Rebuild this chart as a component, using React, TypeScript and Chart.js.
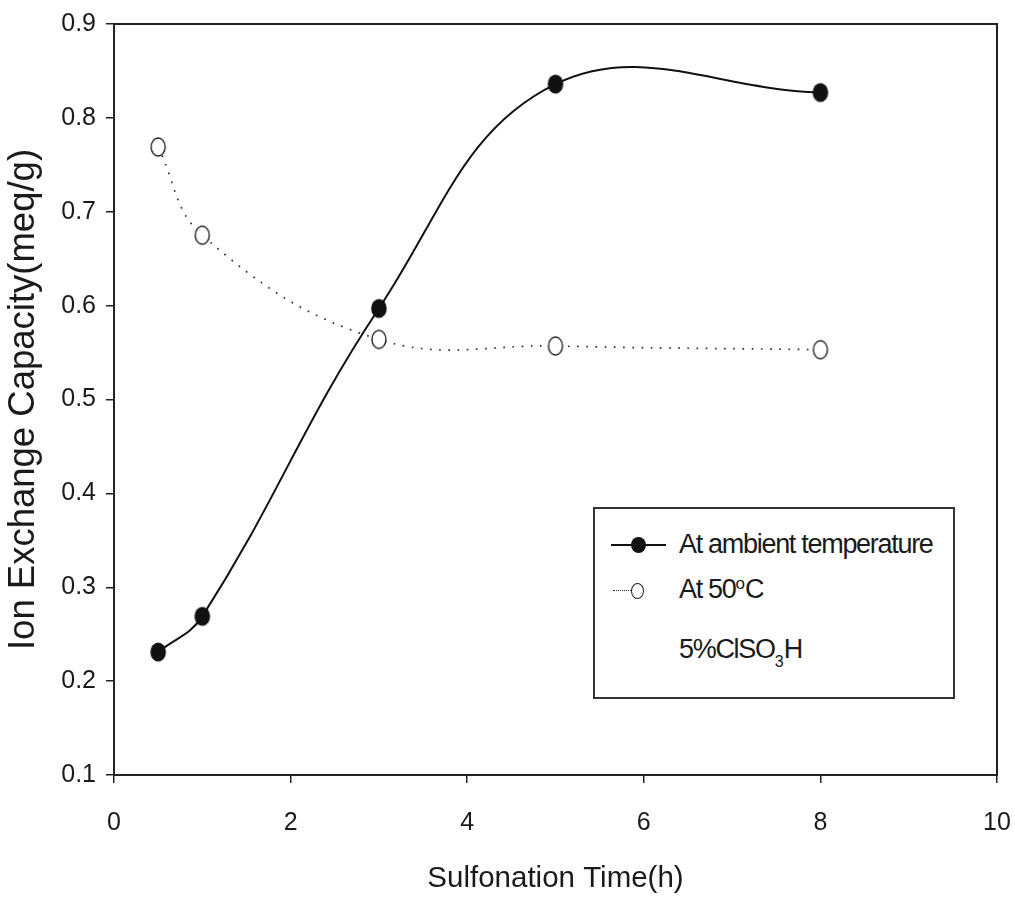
import React, { useEffect, useRef } from "react";
import { Chart, registerables } from "chart.js";

Chart.register(...registerables);

// ---- data ----
const timeH = [0.5, 1, 3, 5, 8];
const ambientIEC = [0.231, 0.269, 0.597, 0.836, 0.827];
const hot50IEC = [0.769, 0.675, 0.564, 0.557, 0.553];
const xTickValues = [0, 2, 4, 6, 8, 10];
const yTickValues = [0.1, 0.2, 0.3, 0.4, 0.5, 0.6, 0.7, 0.8, 0.9];
const seriesNames = ["At ambient temperature", "At 50°C"];
const xTitle = "Sulfonation Time(h)";
const yTitle = "Ion Exchange Capacity(meq/g)";

const FONT = "'Liberation Sans', Arial, sans-serif";
const INK = "#1a1a1a";

function makeMarker(filled: boolean): HTMLCanvasElement {
  const c = document.createElement("canvas");
  c.width = 18;
  c.height = 22;
  const ctx = c.getContext("2d")!;
  ctx.beginPath();
  ctx.ellipse(9, 11, filled ? 7.8 : 7, filled ? 9.6 : 9, 0, 0, Math.PI * 2);
  if (filled) {
    ctx.fillStyle = "#111";
    ctx.fill();
  } else {
    ctx.fillStyle = "#fff";
    ctx.fill();
    ctx.lineWidth = 1.4;
    ctx.strokeStyle = "#222";
    ctx.stroke();
  }
  return c;
}

const framePlugin = {
  id: "frame",
  afterDraw(chart: any) {
    const { ctx, chartArea } = chart;
    ctx.save();
    ctx.strokeStyle = "#222";
    ctx.lineWidth = 2;
    ctx.strokeRect(chartArea.left, chartArea.top, chartArea.right - chartArea.left, chartArea.bottom - chartArea.top);
    ctx.restore();
  },
};

export default function App() {
  const ref = useRef<HTMLCanvasElement | null>(null);

  useEffect(() => {
    if (!ref.current) return;
    const filled = makeMarker(true);
    const open = makeMarker(false);
    const chart = new Chart(ref.current, {
      type: "line",
      data: {
        datasets: [
          {
            label: seriesNames[1],
            data: timeH.map((x, i) => ({ x, y: hot50IEC[i] })),
            borderColor: "#333",
            borderWidth: 1.7,
            borderDash: [1.7, 7.5],
            tension: 0.4,
            pointStyle: open as any,
            pointRadius: 9,
            fill: false,
          },
          {
            label: seriesNames[0],
            data: timeH.map((x, i) => ({ x, y: ambientIEC[i] })),
            borderColor: "#111",
            borderWidth: 2,
            tension: 0.4,
            pointStyle: filled as any,
            pointRadius: 9,
            fill: false,
          },
        ],
      },
      options: {
        animation: false,
        responsive: true,
        maintainAspectRatio: false,
        layout: { padding: { top: 24, right: 18, left: 0, bottom: 0 } },
        plugins: { legend: { display: false }, tooltip: { enabled: false } },
        scales: {
          x: {
            type: "linear",
            min: 0,
            max: 10,
            afterFit: (s: any) => {
              s.height = 123;
              s.paddingLeft = 0;
              s.paddingRight = 0;
            },
            afterBuildTicks: (s: any) => {
              s.ticks = xTickValues.map((v) => ({ value: v }));
            },
            ticks: {
              callback: (v: any) => String(v),
              font: { family: FONT, size: 25 },
              color: INK,
              padding: 25,
              maxRotation: 0,
            },
            grid: { display: true, drawOnChartArea: false, drawTicks: true, tickLength: 8, color: "#222", lineWidth: 1.5 },
            border: { display: true, color: "#222", width: 2 },
            title: {
              display: true,
              text: xTitle,
              font: { family: FONT, size: 29.5 },
              color: INK,
              padding: { top: 0, bottom: 1 },
            },
          },
          y: {
            type: "linear",
            min: 0.1,
            max: 0.9,
            afterFit: (s: any) => {
              s.width = 114;
              s.paddingTop = 0;
              s.paddingBottom = 0;
            },
            afterBuildTicks: (s: any) => {
              s.ticks = yTickValues.map((v) => ({ value: v }));
            },
            ticks: {
              callback: (v: any) => Number(v).toFixed(1),
              font: { family: FONT, size: 25 },
              color: INK,
              padding: 10,
            },
            grid: { display: true, drawOnChartArea: false, drawTicks: true, tickLength: 8, color: "#222", lineWidth: 1.5 },
            border: { display: true, color: "#222", width: 2 },
            title: {
              display: true,
              text: yTitle,
              font: { family: FONT, size: 36.5 },
              color: INK,
              padding: { top: 2, bottom: 0 },
            },
          },
        },
      },
      plugins: [framePlugin],
    });
    return () => chart.destroy();
  }, []);

  const textStyle: React.CSSProperties = {
    position: "absolute",
    left: 679,
    fontFamily: FONT,
    fontSize: 27,
    lineHeight: "27px",
    letterSpacing: "-1.3px",
    color: INK,
    whiteSpace: "nowrap",
  };

  return (
    <div style={{ position: "fixed", left: 0, top: 0, width: 1015, height: 898, background: "#fff" }}>
      <canvas ref={ref} />
      <div
        style={{
          position: "absolute",
          left: 593,
          top: 507,
          width: 362,
          height: 192,
          boxSizing: "border-box",
          border: "2px solid #333",
          background: "#fff",
        }}
      />
      {/* row 1 symbol */}
      <div style={{ position: "absolute", left: 611, top: 544, width: 55, height: 2, background: "#111" }} />
      <div style={{ position: "absolute", left: 631, top: 537, width: 15, height: 16, borderRadius: "50%", background: "#111" }} />
      <div style={{ ...textStyle, top: 531 }}>{seriesNames[0]}</div>
      {/* row 2 symbol */}
      <div style={{ position: "absolute", left: 613, top: 590, width: 18, height: 0, borderTop: "1.5px dotted #333" }} />
      <div
        style={{
          position: "absolute",
          left: 631,
          top: 583,
          width: 13,
          height: 16,
          boxSizing: "border-box",
          borderRadius: "50%",
          border: "1.4px solid #222",
          background: "#fff",
        }}
      />
      <div style={{ ...textStyle, top: 576 }}>
        At 50<span style={{ fontSize: 17, position: "relative", top: -9, letterSpacing: 0 }}>o</span>C
      </div>
      <div style={{ ...textStyle, top: 636 }}>
        5%ClSO<span style={{ fontSize: 16, position: "relative", top: 9, letterSpacing: 0 }}>3</span>H
      </div>
    </div>
  );
}
